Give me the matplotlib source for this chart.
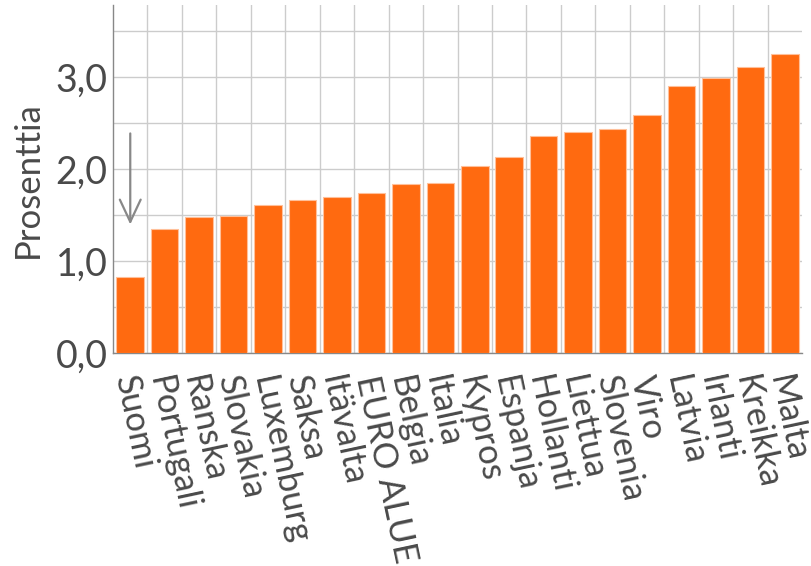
"""Bar chart: percentage by euro area country, sorted ascending."""

import matplotlib

matplotlib.use("Agg")
import matplotlib.pyplot as plt  # noqa: E402
import matplotlib.transforms as mtransforms  # noqa: E402
from matplotlib.ticker import FuncFormatter, MultipleLocator  # noqa: E402

COUNTRIES = [
    "Suomi", "Portugali", "Ranska", "Slovakia", "Luxemburg", "Saksa",
    "Itävalta", "EURO ALUE", "Belgia", "Italia", "Kypros", "Espanja",
    "Hollanti", "Liettua", "Slovenia", "Viro", "Latvia", "Irlanti",
    "Kreikka", "Malta",
]
VALUES = [
    0.83, 1.35, 1.48, 1.49, 1.61, 1.67,
    1.70, 1.74, 1.84, 1.85, 2.04, 2.13,
    2.36, 2.41, 2.44, 2.59, 2.90, 2.99,
    3.11, 3.25,
]
Y_TICKS = [0.0, 1.0, 2.0, 3.0]
ARROW_FROM = 2.42
ARROW_TO = 1.37

BAR_COLOR = "#FF6A10"
TEXT_COLOR = "#4A4A4A"
GRID_COLOR = "#CCCCCC"

plt.rcParams["font.family"] = ["Lato", "DejaVu Sans"]

fig = plt.figure(figsize=(8.12, 5.66), dpi=100)
ax = fig.add_axes([0.1392, 0.3758, 0.8485, 0.6154])

x = list(range(len(COUNTRIES)))
ax.bar(x, VALUES, width=0.8, color=BAR_COLOR, edgecolor="#FFC09A", linewidth=0.8, zorder=3)

ax.set_xlim(-0.5, len(COUNTRIES) - 0.5)
ax.set_ylim(0, 3.786)

# horizontal grid every 0.5, labels only on whole numbers
ax.set_yticks(Y_TICKS)
ax.yaxis.set_major_formatter(FuncFormatter(lambda v, _: f"{v:.1f}".replace(".", ",")))
ax.yaxis.set_minor_locator(MultipleLocator(0.5))
ax.grid(axis="y", which="both", color=GRID_COLOR, linewidth=1.0, zorder=0)

# vertical grid on category boundaries
for b in x[1:]:
    ax.axvline(b - 0.5, color=GRID_COLOR, linewidth=1.0, zorder=0)

# country labels: steep rotation, nudged a little left of the bar centre
ax.set_xticks(x)
ax.set_xticklabels([])
label_tr = ax.get_xaxis_transform() + mtransforms.ScaledTranslation(-6 / 100, -23 / 100, fig.dpi_scale_trans)
for xi, name in zip(x, COUNTRIES):
    ax.text(xi, 0, name, transform=label_tr, rotation=-78, rotation_mode="anchor",
            ha="left", va="center", fontsize=25, color=TEXT_COLOR)

ax.tick_params(axis="both", which="both", length=0, labelcolor=TEXT_COLOR)
ax.tick_params(axis="y", pad=4, labelsize=27)

for side in ["top", "right"]:
    ax.spines[side].set_visible(False)
for side in ["left", "bottom"]:
    ax.spines[side].set_color("#888888")
    ax.spines[side].set_linewidth(1.0)

ax.set_ylabel("Prosenttia", fontsize=25, color=TEXT_COLOR, labelpad=8)

ax.annotate(
    "",
    xy=(0, ARROW_TO),
    xytext=(0, ARROW_FROM),
    arrowprops=dict(arrowstyle="->,head_length=1.6,head_width=0.75", color="#888888", lw=1.6),
    zorder=4,
)

fig.savefig("out.png", dpi=100)
plt.close(fig)
